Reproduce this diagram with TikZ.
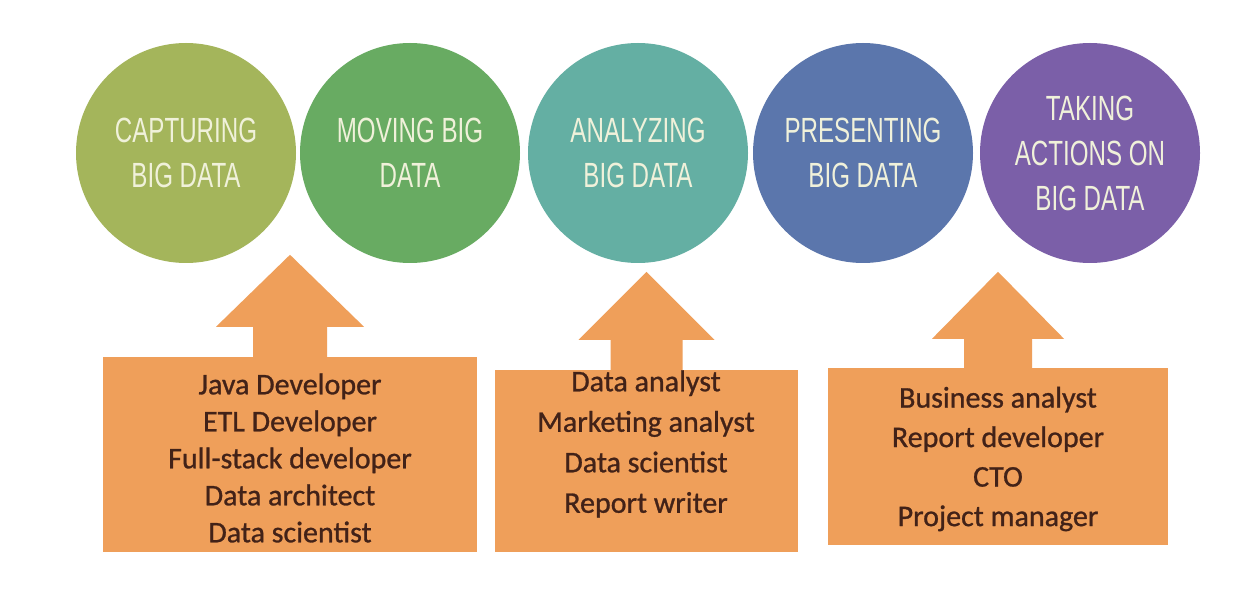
\documentclass[tikz,border=0pt]{standalone}
\usepackage{fontspec}
\usetikzlibrary{calc}
\newfontfamily\stagefont[FakeStretch=0.69]{Liberation Sans}
\newfontfamily\jobfont[FakeBold=0.9]{Carlito}
\definecolor{capgreen}{RGB}{164,181,91}
\definecolor{movegreen}{RGB}{104,171,98}
\definecolor{anateal}{RGB}{100,175,163}
\definecolor{presblue}{RGB}{91,118,172}
\definecolor{actpurple}{RGB}{123,95,168}
\definecolor{joborange}{RGB}{239,159,90}
\definecolor{jobbrown}{RGB}{66,34,24}
\definecolor{stagecream}{RGB}{240,241,218}
\tikzset{
    stage/.style={circle, minimum size=220pt, inner sep=0pt, fill=#1,
        text=stagecream, align=center, font=\stagefont\fontsize{35}{45}\selectfont},
    jobbox/.style={rectangle, fill=joborange, inner sep=0pt},
    jobtext/.style={align=center, text=jobbrown, inner sep=0pt,
        font=\jobfont\fontsize{30}{#1}\selectfont},
    jobtext/.default=38
}
\begin{document}
\begin{tikzpicture}[x=1pt,y=-1pt]
        \useasboundingbox[fill=white] (0,0) rectangle (1240,604);

        % Stages
        \node[stage=capgreen] (capture) at (186,153) {CAPTURING\\BIG DATA};
        \node[stage=movegreen] (move) at (410,153) {MOVING BIG\\DATA};
        \node[stage=anateal] (analyze) at (638,153) {ANALYZING\\BIG DATA};
        \node[stage=presblue] (present) at (863,153) {PRESENTING\\BIG DATA};
        \node[stage=actpurple] (act) at (1090,153) {TAKING\\ACTIONS ON\\BIG DATA};

        % Job boxes
        \node[jobbox, minimum width=374pt, minimum height=195pt] (devbox) at (290,454.5) {};
        \node[jobbox, minimum width=303pt, minimum height=182pt] (anabox) at (646.5,461) {};
        \node[jobbox, minimum width=340pt, minimum height=177pt] (bizbox) at (998,456.5) {};

        % Arrows up from the boxes
        \foreach \jb/\sw/\hw/\sh/\hh in {devbox/37/74/30/72, anabox/36/68/30/68, bizbox/34/66/29/67}
            \fill[joborange] ($(\jb.north)+(-\sw,1)$) -- ++(0,-\sh-1) -- ++(\sw-\hw,0)
                -- ($(\jb.north)+(0,-\sh-\hh)$) -- ($(\jb.north)+(\hw,-\sh)$)
                -- ++(\sw-\hw,0) -- ($(\jb.north)+(\sw,1)$) -- cycle;

        % Job titles
        \node[jobtext=37] (devjobs) at (290,458) {Java Developer\\ETL Developer\\Full-stack developer\\Data architect\\Data scientist};
        \node[jobtext=40.5] (anajobs) at (646,444) {Data analyst\\Marketing analyst\\Data scientist\\Report writer};
        \node[jobtext=39.5] (bizjobs) at (998,459) {Business analyst\\Report developer\\CTO\\Project manager};
\end{tikzpicture}
\end{document}
